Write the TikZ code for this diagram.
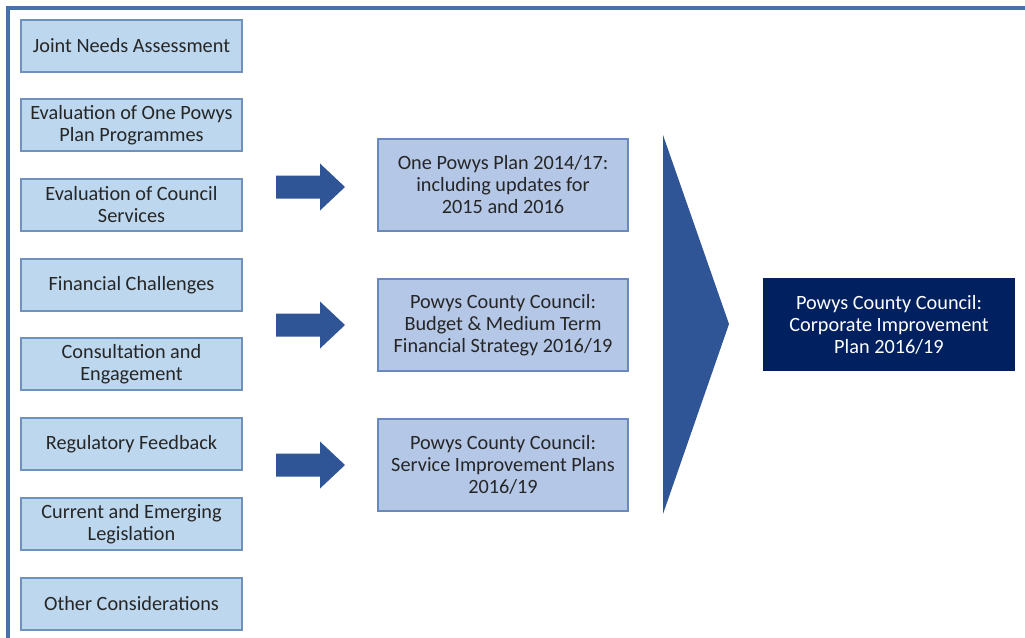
\documentclass[tikz,border=0pt]{standalone}
\usepackage{fontspec}
\setmainfont{Carlito}
\usetikzlibrary{calc}
\definecolor{framec}{RGB}{71,114,168}
\definecolor{lfill}{RGB}{189,215,238}
\definecolor{lborder}{RGB}{110,145,190}
\definecolor{mfill}{RGB}{180,199,231}
\definecolor{mborder}{RGB}{105,137,190}
\definecolor{arrowc}{RGB}{47,85,151}
\definecolor{darkc}{RGB}{0,32,96}
\begin{document}
\begin{tikzpicture}[x=0.75pt,y=-0.75pt,
  txt/.style={align=center,font=\fontsize{15.2pt}{16.5pt}\selectfont,inner sep=0pt},
  lbox/.style={txt,draw=lborder,line width=1.5pt,fill=lfill,minimum width=221*0.75pt,minimum height=52*0.75pt,text=black!85},
  mbox/.style={txt,draw=mborder,line width=1.2pt,fill=mfill,minimum width=250*0.75pt,minimum height=92*0.75pt,text=black!85},
  dbox/.style={txt,fill=darkc,minimum width=252*0.75pt,minimum height=93*0.75pt,text=white},
  fatarrow/.style={fill=arrowc}]
\useasboundingbox (0,0) rectangle (1025,637);
\fill[white] (0,0) rectangle (1025,637);
\draw[framec,line width=2.5pt] (8,640) -- (8,8) -- (1030,8);
% left boxes
\node[lbox] (l1) at (131.5,46) {Joint Needs Assessment};
\node[lbox] (l2) at (131.5,125) {Evaluation of One Powys\\Plan Programmes};
\node[lbox] (l3) at (131.5,205) {Evaluation of Council\\Services};
\node[lbox] (l4) at (131.5,285) {Financial Challenges};
\node[lbox] (l5) at (131.5,364) {Consultation and\\Engagement};
\node[lbox] (l6) at (131.5,444) {Regulatory Feedback};
\node[lbox] (l7) at (131.5,524) {Current and Emerging\\Legislation};
\node[lbox] (l8) at (131.5,604) {Other Considerations};
% middle boxes
\node[mbox] (m1) at (503,185) {One Powys Plan 2014/17:\\including updates for\\2015 and 2016};
\node[mbox] (m2) at (503,325) {Powys County Council:\\Budget \& Medium Term\\Financial Strategy 2016/19};
\node[mbox] (m3) at (503,465) {Powys County Council:\\Service Improvement Plans\\2016/19};
% right box
\node[dbox] (r) at (889,324.5) {Powys County Council:\\Corporate Improvement\\Plan 2016/19};
% block arrows
\foreach \n/\cy in {a1/187,a2/325,a3/465}{
  \coordinate (\n) at (276,\cy);
  \fill[fatarrow] ($(\n)+(0,-11.5)$) -- ++(44,0) -- ++(0,-12) -- ($(\n)+(69,0)$) -- ($(\n)+(44,23.5)$) -- ++(0,-12) -- ($(\n)+(0,11.5)$) -- cycle;
}
% big chevron
\coordinate (t1) at (663,135);
\coordinate (t2) at (729,324);
\coordinate (t3) at (663,514);
\fill[fatarrow] (t1) -- (t2) -- (t3) -- cycle;
\end{tikzpicture}
\end{document}
